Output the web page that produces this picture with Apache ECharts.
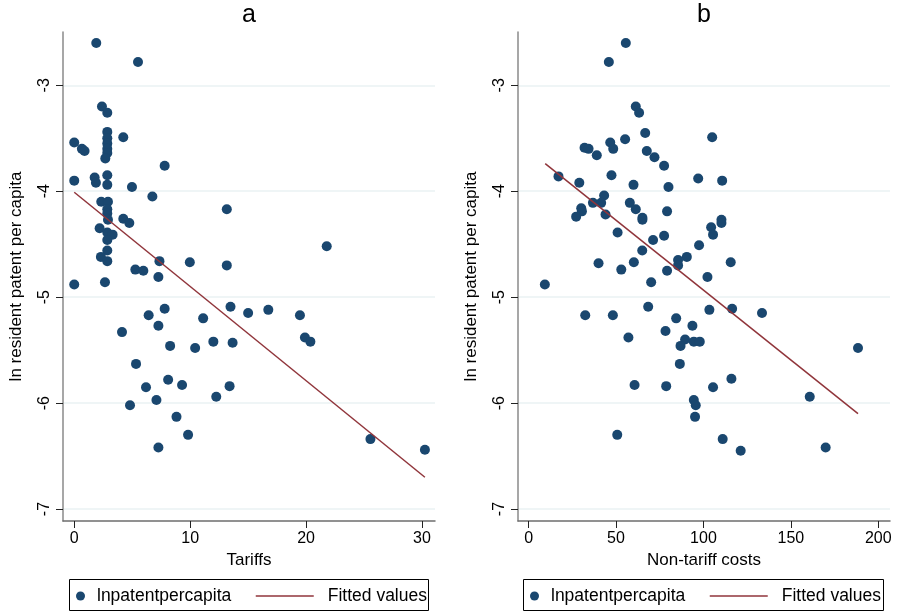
<!DOCTYPE html>
<html><head><meta charset="utf-8">
<script src="https://cdn.jsdelivr.net/npm/echarts@6/dist/echarts.min.js"></script>
<style>html,body{margin:0;padding:0;background:#fff}#c{width:898px;height:614px}</style>
</head><body><div id="c"></div>
<script>
// Panel a: tariffs vs ln resident patent per capita
const tariffPoints = [
  [1.9,-2.60],[5.5,-2.78],[2.39,-3.20],[2.85,-3.26],[2.85,-3.44],[2.85,-3.50],[2.85,-3.55],
  [2.85,-3.60],[2.85,-3.64],[2.68,-3.69],[0,-3.54],[0.66,-3.60],[0.89,-3.62],[4.23,-3.49],
  [7.8,-3.76],[0,-3.90],[1.76,-3.87],[1.87,-3.92],[2.85,-3.85],[2.85,-3.94],[4.98,-3.96],
  [6.74,-4.05],[13.16,-4.17],[2.33,-4.10],[2.91,-4.10],[2.85,-4.17],[2.85,-4.21],[2.91,-4.27],
  [4.23,-4.26],[4.75,-4.30],[2.19,-4.35],[2.85,-4.39],[3.31,-4.41],[2.85,-4.46],[2.85,-4.56],
  [2.3,-4.62],[2.85,-4.66],[7.35,-4.66],[9.97,-4.67],[13.16,-4.70],[5.27,-4.74],[5.96,-4.75],
  [7.26,-4.81],[0,-4.88],[2.65,-4.86],[13.48,-5.09],[15.0,-5.15],[7.8,-5.11],[6.42,-5.17],
  [11.12,-5.20],[7.26,-5.27],[4.12,-5.33],[8.27,-5.46],[10.43,-5.48],[12.0,-5.42],[13.66,-5.43],
  [5.33,-5.63],[6.19,-5.85],[8.1,-5.78],[9.3,-5.83],[13.4,-5.84],[12.25,-5.94],[4.81,-6.02],
  [7.09,-5.97],[8.82,-6.13],[9.82,-6.30],[7.26,-6.42],[21.78,-4.52],[16.74,-5.12],[19.47,-5.17],
  [19.9,-5.38],[20.37,-5.42],[25.55,-6.34],[30.25,-6.44]
];
// Panel b: non-tariff costs vs ln resident patent per capita
const nonTariffPoints = [
  [55.6,-2.60],[45.9,-2.78],[61.3,-3.20],[63.2,-3.26],[66.7,-3.45],[55.2,-3.51],[46.7,-3.54],
  [48.4,-3.60],[32.0,-3.59],[34.3,-3.60],[39.0,-3.66],[67.6,-3.62],[72,-3.68],[77.5,-3.76],
  [105,-3.49],[17.1,-3.86],[29,-3.92],[47.4,-3.85],[60,-3.94],[80,-3.96],[97,-3.88],[110.7,-3.90],
  [43.2,-4.04],[36.8,-4.11],[41.5,-4.11],[57.9,-4.11],[61.3,-4.17],[30.1,-4.16],[30.5,-4.19],
  [27.2,-4.24],[44,-4.22],[65.1,-4.25],[65.1,-4.27],[79.2,-4.19],[50.9,-4.39],[71.2,-4.46],
  [77.5,-4.42],[97.5,-4.51],[104.4,-4.34],[105.5,-4.41],[110.3,-4.27],[110.3,-4.30],[90.5,-4.62],
  [115.6,-4.67],[102.3,-4.81],[103.4,-5.12],[116.4,-5.11],[133.5,-5.15],[93.7,-5.27],[94.5,-5.42],
  [97.9,-5.42],[188.4,-5.48],[105.5,-5.85],[116,-5.77],[94.5,-5.97],[95.6,-6.02],[95.2,-6.13],
  [160.8,-5.94],[111,-6.34],[121.3,-6.45],[169.9,-6.42],[65,-4.56],[40,-4.68],[60.2,-4.67],
  [53,-4.74],[79.2,-4.75],[85.5,-4.65],[85.5,-4.70],[9.3,-4.88],[70.1,-4.86],[68.4,-5.09],
  [32.4,-5.17],[48.2,-5.17],[84.4,-5.20],[78.3,-5.32],[57.1,-5.38],[89.5,-5.40],[86.9,-5.46],
  [86.5,-5.63],[60.6,-5.83],[78.7,-5.84],[50.7,-6.30]
];
const fitTariff = [[0,-4.01],[30.25,-6.70]];
const fitNonTariff = [[9.5,-3.74],[188.4,-6.10]];
const yTicks = [-7,-6,-5,-4,-3];
const xTicksTariff = [0,10,20,30];
const xTicksNonTariff = [0,50,100,150,200];
const panelTitles = ['a','b'];
const xNames = ['Tariffs','Non-tariff costs'];
const yName = 'ln resident patent per capita';
const seriesNames = ['lnpatentpercapita','Fitted values'];

const FONT = 'Liberation Sans, Arial, Helvetica, sans-serif';
const NAVY = '#1a476f';
const MAROON = '#90353b';
const panels = [
  {left:63, width:372, xmin:-0.97, xmax:31.12, ticks:xTicksTariff, pts:tariffPoints, fit:fitTariff, box:69, boxW:359},
  {left:518, width:372, xmin:-6.06, xmax:206.7, ticks:xTicksNonTariff, pts:nonTariffPoints, fit:fitNonTariff, box:523, boxW:360}
];

const chart = echarts.init(document.getElementById('c'), null, {renderer:'canvas'});
const option = {
  animation:false,
  backgroundColor:'#fff',
  textStyle:{fontFamily:FONT},
  title: panels.map((p,i)=>({
    text: panelTitles[i], left: p.left + p.width/2, top: 3, textAlign:'center', padding:0,
    textStyle:{fontSize:25, fontWeight:'normal', color:'#000', fontFamily:FONT}
  })),
  grid: panels.map(p=>({left:p.left, top:32, width:p.width, height:489, containLabel:false})),
  xAxis: panels.map((p,i)=>({
    gridIndex:i, type:'value', min:p.xmin, max:p.xmax,
    name:xNames[i], nameLocation:'middle', nameGap:30,
    nameTextStyle:{fontSize:17, color:'#000', fontFamily:FONT},
    axisLine:{show:true, onZero:false, lineStyle:{color:'#6e6e6e', width:1.5}},
    axisTick:{show:true, length:7, customValues:p.ticks, lineStyle:{color:'#222', width:1}},
    axisLabel:{customValues:p.ticks, fontSize:16, color:'#000', margin:10, fontFamily:FONT},
    splitLine:{show:false}
  })),
  yAxis: panels.map((p,i)=>({
    gridIndex:i, type:'value', min:-7.113, max:-2.497,
    name:yName, nameLocation:'middle', nameGap:38, nameRotate:90,
    nameTextStyle:{fontSize:17, color:'#000', fontFamily:FONT},
    axisLine:{show:true, onZero:false, lineStyle:{color:'#8a8a8a', width:1.5}},
    axisTick:{show:true, length:7, customValues:yTicks, lineStyle:{color:'#222', width:1}},
    axisLabel:{customValues:yTicks, rotate:90, fontSize:16, color:'#000', margin:10, fontFamily:FONT},
    splitLine:{show:true, lineStyle:{color:'#eaf2f3', width:1.5}}
  })),
  legend: [].concat(...panels.map((p,i)=>[
    {data:[seriesNames[0]], left:p.box+7, top:587, padding:0, itemWidth:9, itemHeight:9,
     icon:'circle', textStyle:{fontSize:17.5, color:'#000', fontFamily:FONT, padding:[0,0,0,7]}, selectedMode:false},
    {data:[seriesNames[1]], left:p.box+186, top:587, padding:0, itemWidth:58, itemHeight:10,
     itemStyle:{opacity:0, borderWidth:0},
     lineStyle:{color:MAROON, width:1.5},
     textStyle:{fontSize:17.5, color:'#000', fontFamily:FONT, padding:[0,0,0,9]}, selectedMode:false}
  ])),
  graphic: panels.map(p=>({
    type:'rect', shape:{x:p.box+0.5, y:579.5, width:p.boxW, height:31},
    style:{fill:'none', stroke:'#000', lineWidth:1}, silent:true
  })),
  series: [].concat(...panels.map((p,i)=>[
    {name:seriesNames[0], type:'scatter', xAxisIndex:i, yAxisIndex:i, data:p.pts,
     symbol:'circle', symbolSize:10, itemStyle:{color:NAVY, opacity:1}, z:2},
    {name:seriesNames[1], type:'line', xAxisIndex:i, yAxisIndex:i, data:p.fit,
     showSymbol:false, symbol:'none', lineStyle:{color:MAROON, width:1.5}, itemStyle:{color:MAROON}, z:3}
  ]))
};
chart.setOption(option);
</script></body></html>
